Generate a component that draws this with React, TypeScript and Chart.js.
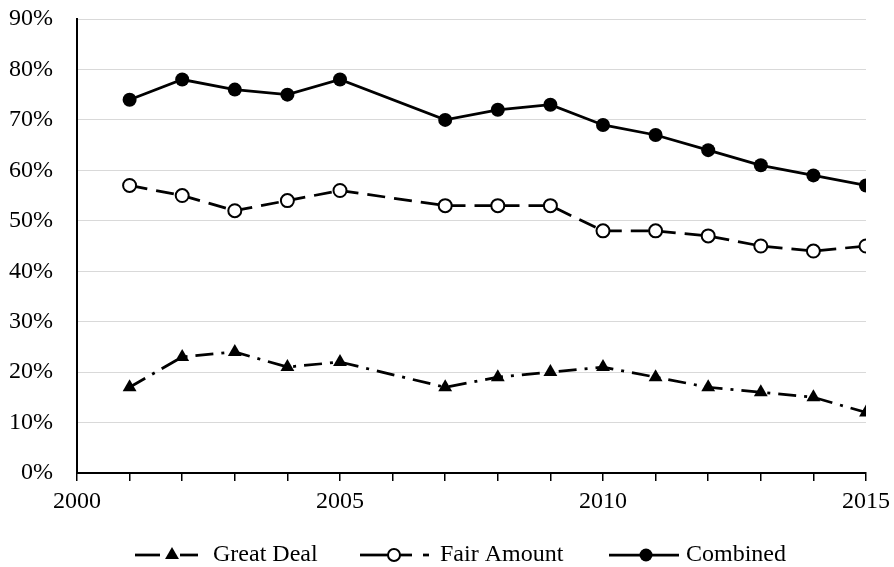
import React, { useEffect, useRef } from "react";
import { Chart, registerables } from "chart.js";

Chart.register(...registerables);

const years = [2001, 2002, 2003, 2004, 2005, 2007, 2008, 2009, 2010, 2011, 2012, 2013, 2014, 2015];
const greatDeal = [17, 23, 24, 21, 22, 17, 19, 20, 21, 19, 17, 16, 15, 12];
const fairAmount = [57, 55, 52, 54, 56, 53, 53, 53, 48, 48, 47, 45, 44, 45];
const combined = [74, 78, 76, 75, 78, 70, 72, 73, 69, 67, 64, 61, 59, 57];
const seriesNames = ["Great Deal", "Fair Amount", "Combined"];

const FONT = "'Liberation Serif', 'Times New Roman', serif";

const legendPlugin = {
  id: "customLegend",
  afterDraw(chart: any) {
    const ctx = chart.ctx as CanvasRenderingContext2D;
    const y = 555;
    ctx.save();
    ctx.strokeStyle = "#000";
    ctx.fillStyle = "#000";
    ctx.lineWidth = 2.75;
    const seg = (a: number, b: number) => {
      ctx.beginPath();
      ctx.moveTo(a, y);
      ctx.lineTo(b, y);
      ctx.stroke();
    };
    // Great Deal
    seg(135, 160);
    seg(180, 198);
    ctx.beginPath();
    const r = 8;
    ctx.moveTo(172, y - r);
    ctx.lineTo(172 + r * 0.866, y + r * 0.5);
    ctx.lineTo(172 - r * 0.866, y + r * 0.5);
    ctx.closePath();
    ctx.fill();
    // Fair Amount
    seg(360, 388);
    seg(400, 412);
    seg(423, 429);
    ctx.beginPath();
    ctx.lineWidth = 2;
    ctx.arc(394, y, 6, 0, Math.PI * 2);
    ctx.fillStyle = "#fff";
    ctx.fill();
    ctx.stroke();
    ctx.fillStyle = "#000";
    ctx.lineWidth = 2.75;
    // Combined
    seg(609, 679);
    ctx.beginPath();
    ctx.arc(646, y, 6.5, 0, Math.PI * 2);
    ctx.fill();
    // Text
    ctx.font = `24px ${FONT}`;
    ctx.textBaseline = "middle";
    ctx.textAlign = "left";
    ctx.fillText(seriesNames[0], 213, y);
    ctx.fillText(seriesNames[1], 440, y);
    ctx.fillText(seriesNames[2], 686, y);
    ctx.restore();
  },
};

export default function App() {
  const ref = useRef<HTMLCanvasElement | null>(null);
  useEffect(() => {
    document.body.style.margin = "0";
    const toPts = (vals: number[]) => years.map((x, i) => ({ x, y: vals[i] }));
    const chart = new Chart(ref.current as HTMLCanvasElement, {
      type: "line",
      data: {
        datasets: [
          {
            label: seriesNames[0],
            data: toPts(greatDeal),
            borderColor: "#000",
            backgroundColor: "#000",
            borderWidth: 2.75,
            borderDash: [18, 8, 3, 8],
            pointStyle: "triangle",
            pointRadius: 8,
            pointBorderWidth: 0,
            pointBackgroundColor: "#000",
          },
          {
            label: seriesNames[1],
            data: toPts(fairAmount),
            borderColor: "#000",
            backgroundColor: "#fff",
            borderWidth: 2.75,
            borderDash: [18, 9],
            pointStyle: "circle",
            pointRadius: 6.5,
            pointBorderWidth: 2,
            pointBackgroundColor: "#fff",
            pointBorderColor: "#000",
          },
          {
            label: seriesNames[2],
            data: toPts(combined),
            borderColor: "#000",
            backgroundColor: "#000",
            borderWidth: 2.75,
            pointStyle: "circle",
            pointRadius: 7,
            pointBorderWidth: 0,
            pointBackgroundColor: "#000",
          },
        ],
      },
      options: {
        animation: false,
        responsive: false,
        maintainAspectRatio: false,
        layout: { padding: { left: 0, right: 28, top: 19, bottom: 0 } },
        plugins: { legend: { display: false }, tooltip: { enabled: false } },
        elements: { line: { tension: 0 } },
        scales: {
          x: {
            type: "linear",
            min: 2000,
            max: 2015,
            afterFit(scale: any) {
              scale.height = 94;
              scale.paddingLeft = 0;
              scale.paddingRight = 0;
            },
            ticks: {
              stepSize: 1,
              autoSkip: false,
              maxRotation: 0,
              padding: 6,
              color: "#000",
              font: { family: FONT, size: 24 },
              callback: (v: any) => (Number(v) % 5 === 0 ? String(v) : ""),
            },
            grid: {
              drawOnChartArea: false,
              drawTicks: true,
              tickLength: 8,
              color: "#000",
              lineWidth: 1.5,
            },
            border: { display: true, color: "#000", width: 2 },
          },
          y: {
            min: 0,
            max: 90,
            afterFit(scale: any) {
              scale.width = 77;
              scale.paddingTop = 0;
              scale.paddingBottom = 0;
            },
            ticks: {
              stepSize: 10,
              padding: 24,
              color: "#000",
              font: { family: FONT, size: 24 },
              callback: (v: any) => `${v}%`,
            },
            grid: { drawTicks: false, color: "#d9d9d9", lineWidth: 1 },
            border: { display: true, color: "#000", width: 2 },
          },
        },
      },
      plugins: [legendPlugin],
    });
    return () => chart.destroy();
  }, []);
  return (
    <div style={{ width: 894, height: 567 }}>
      <canvas ref={ref} width={894} height={567} style={{ display: "block" }} />
    </div>
  );
}
